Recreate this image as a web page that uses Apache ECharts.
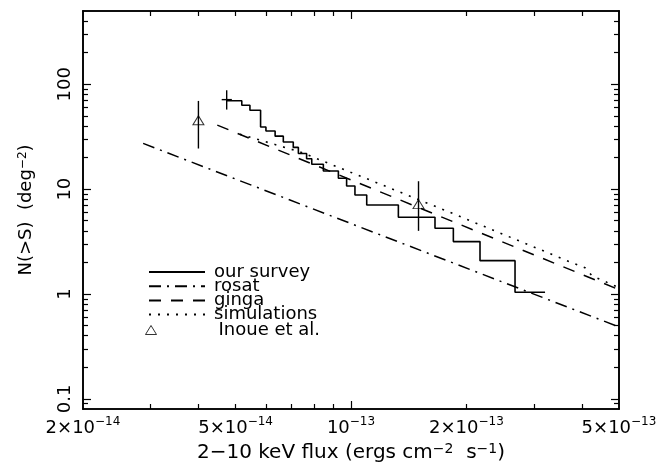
<!DOCTYPE html>
<html>
<head>
<meta charset="utf-8">
<script src="https://cdn.jsdelivr.net/npm/echarts@6/dist/echarts.min.js"></script>
<style>
html, body { margin: 0; padding: 0; background: #fff; }
#chart { width: 664px; height: 462px; }
</style>
</head>
<body>
<div id="chart"></div>
<script>
var FLUX_UNIT = 1e-14;   // fluxes below are in units of 1e-14 ergs cm-2 s-1
var FONT = 'DejaVu Sans';

// our survey (staircase N(>S))
var surveyFlux = [4.74, 5.19, 5.45, 5.81, 6.00, 6.34, 6.66, 7.07, 7.29, 7.66, 7.90, 8.47, 9.27, 9.74, 10.24, 10.99, 13.29, 16.56, 18.49, 21.70, 26.78, 32.07];
var surveyN = [69.7, 63.1, 56.6, 39.2, 35.9, 32.0, 28.2, 25.0, 21.9, 19.5, 17.3, 14.9, 12.7, 10.7, 8.79, 7.06, 5.39, 4.24, 3.16, 2.08, 1.04, 1.04];
// error cross at the faint end of the survey
var crossFlux = [4.74], crossN = [71.4];
var crossFluxLo = [4.60], crossFluxHi = [4.89];
var crossNLo = [57.4], crossNHi = [87.7];

// rosat, ginga, simulations
var rosatFlux = [2.87, 50];
var rosatN = [27.3, 0.485];
var gingaFlux = [4.48, 50];
var gingaN = [40.8, 1.10];
var simFlux = [5.13, 7.36, 17.07, 37.93, 40.77, 42.53, 50];
var simN = [33.4, 22.7, 6.57, 1.97, 1.78, 1.49, 1.15];

// Inoue et al.
var inoueFlux = [4.0, 15.0];
var inoueN = [45.4, 7.2];
var inoueNLo = [24.4, 4.0];
var inoueNHi = [69.4, 11.9];

// axes
var xMin = 2, xMax = 50, yMin = 0.08, yMax = 500;
var xLabelFlux = [2, 5, 10, 20, 50];
var xLabelMant = ['2×10', '5×10', '10', '2×10', '5×10'];
var xLabelExp = ['−14', '−14', '−13', '−13', '−13'];
var xMajorFlux = [10];
var xMinorFlux = [3, 4, 5, 6, 7, 8, 9, 20, 30, 40];
var yLabelVals = [0.1, 1, 10, 100];
var yLabelText = ['0.1', '1', '10', '100'];
var yMinorVals = [0.09, 0.2, 0.3, 0.4, 0.5, 0.6, 0.7, 0.8, 0.9, 2, 3, 4, 5, 6, 7, 8, 9,
                  20, 30, 40, 50, 60, 70, 80, 90, 200, 300, 400];

function lx(f) { return Math.log10(f * FLUX_UNIT); }
function ly(n) { return Math.log10(n); }
function pts(xs, ys) {
    var out = [];
    for (var i = 0; i < xs.length; i++) out.push([lx(xs[i]), ly(ys[i])]);
    return out;
}

var myChart = echarts.init(document.getElementById('chart'));

function xAxisDef(pos, ticks, len, labels) {
    var ax = {
        type: 'value', position: pos, min: lx(xMin), max: lx(xMax),
        axisLine: { show: true, onZero: false, lineStyle: { color: '#000', width: 1.6 } },
        axisTick: { show: true, inside: true, length: len, customValues: ticks.map(lx),
                    lineStyle: { color: '#000', width: 1.2 } },
        axisLabel: { show: false },
        splitLine: { show: false }
    };
    if (labels) {
        ax.axisLabel = {
            show: true, margin: 7, customValues: xLabelFlux.map(lx),
            formatter: function (v) {
                for (var i = 0; i < xLabelFlux.length; i++) {
                    if (Math.abs(lx(xLabelFlux[i]) - v) < 1e-6) {
                        return '{m|' + xLabelMant[i] + '}{s|' + xLabelExp[i] + '}';
                    }
                }
                return '';
            },
            rich: {
                m: { fontFamily: FONT, fontSize: 18, color: '#000', lineHeight: 21, verticalAlign: 'bottom' },
                s: { fontFamily: FONT, fontSize: 12, color: '#000', lineHeight: 12, verticalAlign: 'top' }
            }
        };
        ax.name = '2−10 keV flux (ergs cm{s|−2}  s{s|−1})';
        ax.nameLocation = 'middle';
        ax.nameGap = 32;
        ax.nameTextStyle = {
            fontFamily: FONT, fontSize: 20, color: '#000', lineHeight: 21, verticalAlign: 'bottom',
            rich: { s: { fontFamily: FONT, fontSize: 14, color: '#000', lineHeight: 14, verticalAlign: 'top' } }
        };
    }
    return ax;
}

function yAxisDef(pos, ticks, len, labels) {
    var ax = {
        type: 'value', position: pos, min: ly(yMin), max: ly(yMax),
        axisLine: { show: true, onZero: false, lineStyle: { color: '#000', width: 1.6 } },
        axisTick: { show: true, inside: true, length: len, customValues: ticks.map(ly),
                    lineStyle: { color: '#000', width: 1.2 } },
        axisLabel: { show: false },
        splitLine: { show: false }
    };
    if (labels) {
        ax.axisLabel = {
            show: true, margin: 9, rotate: 90, customValues: yLabelVals.map(ly),
            fontFamily: FONT, fontSize: 18, color: '#000',
            formatter: function (v) {
                for (var i = 0; i < yLabelVals.length; i++) {
                    if (Math.abs(ly(yLabelVals[i]) - v) < 1e-6) return yLabelText[i];
                }
                return '';
            }
        };
        ax.name = 'N(>S)  (deg{s|−2})';
        ax.nameLocation = 'middle';
        ax.nameGap = 47;
        ax.nameTextStyle = {
            fontFamily: FONT, fontSize: 18, color: '#000', lineHeight: 19, verticalAlign: 'bottom',
            rich: { s: { fontFamily: FONT, fontSize: 12, color: '#000', lineHeight: 12, verticalAlign: 'top' } }
        };
    }
    return ax;
}

// error bars: [x, y, xlo, xhi, ylo, yhi]
function errRender(params, api) {
    var xl = api.coord([api.value(2), api.value(1)]);
    var xh = api.coord([api.value(3), api.value(1)]);
    var yl = api.coord([api.value(0), api.value(4)]);
    var yh = api.coord([api.value(0), api.value(5)]);
    var st = { stroke: '#000', lineWidth: 1.4 };
    return {
        type: 'group',
        children: [
            { type: 'line', shape: { x1: xl[0], y1: xl[1], x2: xh[0], y2: xh[1] }, style: st },
            { type: 'line', shape: { x1: yl[0], y1: yl[1], x2: yh[0], y2: yh[1] }, style: st }
        ]
    };
}

var crossData = [], inoueErrData = [];
for (var i = 0; i < crossFlux.length; i++) {
    crossData.push([lx(crossFlux[i]), ly(crossN[i]), lx(crossFluxLo[i]), lx(crossFluxHi[i]), ly(crossNLo[i]), ly(crossNHi[i])]);
}
for (var j = 0; j < inoueFlux.length; j++) {
    inoueErrData.push([lx(inoueFlux[j]), ly(inoueN[j]), lx(inoueFlux[j]), lx(inoueFlux[j]), ly(inoueNLo[j]), ly(inoueNHi[j])]);
}

var option = {
    animation: false,
    backgroundColor: '#fff',
    grid: { left: 83, top: 11, width: 536, height: 398, outerBoundsMode: 'none', containLabel: false },
    xAxis: [
        xAxisDef('bottom', xMajorFlux, 8, true),
        xAxisDef('bottom', xMinorFlux, 5, false),
        xAxisDef('top', xMajorFlux, 8, false),
        xAxisDef('top', xMinorFlux, 5, false)
    ],
    yAxis: [
        yAxisDef('left', yLabelVals, 8, true),
        yAxisDef('left', yMinorVals, 5, false),
        yAxisDef('right', yLabelVals, 8, false),
        yAxisDef('right', yMinorVals, 5, false)
    ],
    legend: [{
        data: ['our survey', 'rosat', 'ginga', 'simulations'],
        orient: 'vertical', left: 148, top: 263, padding: 0,
        itemWidth: 56, itemHeight: 10, itemGap: -3.8,
        itemStyle: { color: 'transparent', borderWidth: 0, opacity: 0 },
        textStyle: { fontFamily: FONT, fontSize: 18, color: '#000', lineHeight: 13.5, padding: [0, 0, 0, 4] }
    }, {
        data: ['Inoue et al.'],
        orient: 'vertical', left: 145, top: 321, padding: 0,
        itemWidth: 11, itemHeight: 9,
        itemStyle: { color: 'transparent', borderColor: '#000', borderWidth: 1 },
        textStyle: { fontFamily: FONT, fontSize: 18, color: '#000', lineHeight: 14, padding: [0, 0, 0, 57] }
    }],
    series: [{
        name: 'our survey', type: 'line', step: 'end', symbol: 'none',
        lineStyle: { color: '#000', width: 1.6 }, itemStyle: { color: '#000' },
        data: pts(surveyFlux, surveyN)
    }, {
        name: 'rosat', type: 'line', symbol: 'none',
        lineStyle: { color: '#000', width: 1.5, type: [12, 6, 2, 6] }, itemStyle: { color: '#000' },
        data: pts(rosatFlux, rosatN)
    }, {
        name: 'ginga', type: 'line', symbol: 'none',
        lineStyle: { color: '#000', width: 1.5, type: [12, 10] }, itemStyle: { color: '#000' },
        data: pts(gingaFlux, gingaN)
    }, {
        name: 'simulations', type: 'line', symbol: 'none',
        lineStyle: { color: '#000', width: 1.6, type: [2, 7] }, itemStyle: { color: '#000' },
        data: pts(simFlux, simN)
    }, {
        name: 'Inoue et al.', type: 'scatter', symbol: 'triangle', symbolSize: [11, 9],
        itemStyle: { color: 'transparent', borderColor: '#000', borderWidth: 1 },
        data: pts(inoueFlux, inoueN), z: 5
    }, {
        name: 'inoueErr', type: 'custom', renderItem: errRender, silent: true,
        encode: { x: 0, y: 1 }, data: inoueErrData
    }, {
        name: 'surveyErr', type: 'custom', renderItem: errRender, silent: true,
        encode: { x: 0, y: 1 }, data: crossData
    }]
};

myChart.setOption(option);
</script>
</body>
</html>
